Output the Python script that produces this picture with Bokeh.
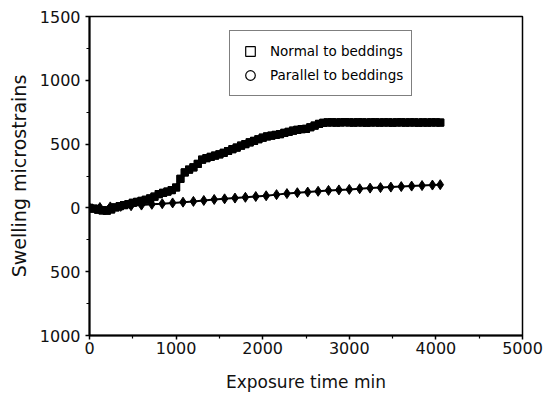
from bokeh.plotting import figure
from bokeh.models import Legend, LegendItem, FixedTicker, ColumnDataSource
from bokeh.embed import file_html
from bokeh.resources import INLINE

# ---- data ----
normal_time = [0, 50, 100, 150, 200, 250, 300, 350, 400, 450, 500, 550, 600, 650, 700, 750,
               800, 850, 900, 950, 1000, 1050, 1100, 1150, 1200, 1250, 1300, 1350, 1400, 1450,
               1500, 1550, 1600, 1650, 1700, 1750, 1800, 1850, 1900, 1950, 2000, 2050, 2100,
               2150, 2200, 2250, 2300, 2350, 2400, 2450, 2500, 2550, 2600, 2650, 2700, 2750,
               2800, 2850, 2900, 2950, 3000, 3050, 3100, 3150, 3200, 3250, 3300, 3350, 3400,
               3450, 3500, 3550, 3600, 3650, 3700, 3750, 3800, 3850, 3900, 3950, 4000, 4050]
normal_strain = [0, -6, -14, -20, -22, -12, 4, 14, 22, 30, 40, 47, 55, 64, 74, 88,
                 108, 118, 128, 140, 160, 228, 278, 300, 318, 345, 378, 390, 400, 410,
                 420, 432, 446, 460, 473, 488, 500, 514, 525, 538, 550, 560, 566,
                 572, 578, 588, 596, 605, 612, 617, 620, 632, 645, 658, 667, 670,
                 671, 669, 670, 672, 670, 669, 671, 670, 668, 670, 671, 669, 670,
                 670, 668, 670, 671, 669, 670, 670, 668, 670, 669, 670, 670, 669]

parallel_time = [0, 120, 240, 360, 480, 600, 720, 840, 960, 1080, 1200, 1320, 1440, 1560,
                 1680, 1800, 1920, 2040, 2160, 2280, 2400, 2520, 2640, 2760, 2880, 3000,
                 3120, 3240, 3360, 3480, 3600, 3720, 3840, 3960, 4050]
parallel_strain = [0, 3, 8, 12, 17, 22, 28, 33, 39, 45, 51, 58, 66, 71,
                   77, 83, 89, 95, 104, 112, 119, 124, 130, 137, 141, 145,
                   150, 155, 159, 163, 167, 171, 175, 179, 182]

x_ticks = [0, 1000, 2000, 3000, 4000, 5000]
y_ticks = [-1000, -500, 0, 500, 1000, 1500]
y_tick_labels = ["1000", "500", "0", "500", "1000", "1500"]

legend_labels = ["Normal to beddings", "Parallel to beddings"]

FONT = "DejaVu Sans"

p = figure(width=547, height=398, x_range=(0, 5000), y_range=(-1000, 1500),
           output_backend="svg", toolbar_location=None,
           min_border_left=89, min_border_right=25, min_border_top=16, min_border_bottom=63)
p.background_fill_color = "white"
p.border_fill_color = "white"
p.grid.visible = False
p.outline_line_color = "black"
p.outline_line_width = 1.5

src_n = ColumnDataSource(dict(x=normal_time, y=normal_strain))
src_p = ColumnDataSource(dict(x=parallel_time, y=parallel_strain))

p.line("x", "y", source=src_n, line_color="black", line_width=4)
p.scatter("x", "y", source=src_n, marker="square", size=7, fill_color="black", line_color="black")
p.line("x", "y", source=src_p, line_color="black", line_width=2)
p.scatter("x", "y", source=src_p, marker="diamond", size=10, fill_color="black", line_color="black")

# hollow overlays (invisible on the black marks) that carry the hollow legend glyphs
r_leg1 = p.scatter("x", "y", source=src_n, marker="square", size=7, fill_color=None,
                   line_color="black", line_width=1.2)
r_leg2 = p.scatter("x", "y", source=src_p, marker="circle", size=3, fill_color=None,
                   line_color="black", line_width=1.2)
legend = Legend(items=[LegendItem(label=legend_labels[0], renderers=[r_leg1]),
                       LegendItem(label=legend_labels[1], renderers=[r_leg2])],
                location=(140, 239), padding=8, spacing=0, margin=0,
                glyph_width=24, glyph_height=24, label_height=24, label_standoff=8,
                label_text_font=FONT, label_text_font_size="13.5px", label_text_color="black",
                border_line_color="black", border_line_width=1.5,
                background_fill_color="white", background_fill_alpha=1.0)
p.add_layout(legend)

# axes
p.xaxis.ticker = FixedTicker(ticks=x_ticks, minor_ticks=[500, 1500, 2500, 3500, 4500])
p.yaxis.ticker = FixedTicker(ticks=y_ticks, minor_ticks=[-750, -250, 250, 750, 1250])
p.yaxis.major_label_overrides = {t: l for t, l in zip(y_ticks, y_tick_labels)}

p.xaxis.axis_label = "Exposure time min"
p.yaxis.axis_label = "Swelling microstrains"
for ax in (p.xaxis[0], p.yaxis[0]):
    ax.axis_line_color = "black"
    ax.axis_line_width = 2
    ax.major_tick_line_color = "black"
    ax.minor_tick_line_color = "black"
    ax.major_tick_line_width = 1.5
    ax.minor_tick_line_width = 1.2
    ax.major_tick_out = 4
    ax.major_tick_in = 0
    ax.minor_tick_out = 3
    ax.minor_tick_in = 0
    ax.major_label_text_font = FONT
    ax.major_label_text_font_size = "16px"
    ax.major_label_text_color = "#111111"
    ax.axis_label_text_font = FONT
    ax.axis_label_text_font_style = "normal"
    ax.axis_label_text_color = "#111111"

p.xaxis.major_label_standoff = 2
p.xaxis.axis_label_text_font_size = "17px"
p.xaxis.axis_label_standoff = 15
p.yaxis.major_label_standoff = 5
p.yaxis.axis_label_text_font_size = "19px"
p.yaxis.axis_label_standoff = 7

open("out.html", "w").write(file_html(p, INLINE))
